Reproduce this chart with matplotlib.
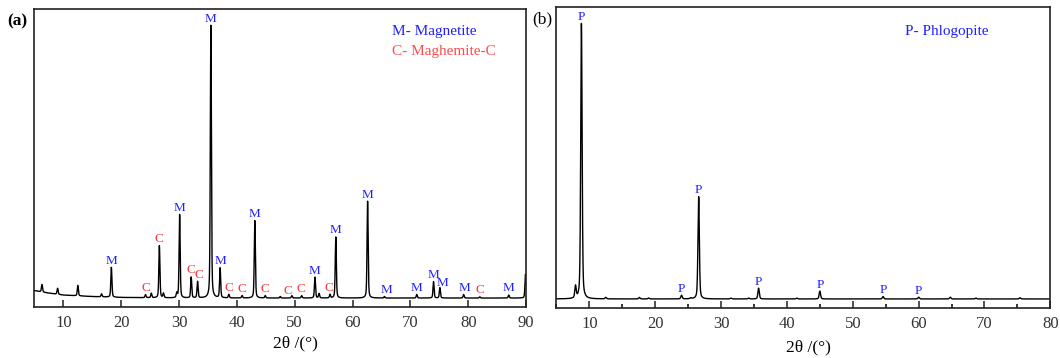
import matplotlib
matplotlib.use("Agg")
import matplotlib.pyplot as plt
import numpy as np

plt.rcParams['font.family'] = ['Liberation Serif', 'DejaVu Serif']

# (a) sample: peak positions (2theta) and heights above background
a_pos = [6.3, 9.0, 12.5, 16.6, 18.3, 24.2, 25.2, 26.6, 27.3, 29.6, 30.1, 32.1,
         33.2, 35.5, 37.1, 38.6, 40.9, 43.1, 44.9, 47.5, 49.5, 51.2, 53.5, 54.2,
         56.1, 57.1, 62.6, 65.5, 71.1, 74.0, 75.1, 79.2, 82.0, 87.0, 89.9]
a_int = [2.5, 2.0, 3.5, 1.0, 10.0, 1.0, 1.5, 17.5, 1.5, 1.5, 28.0, 7.0,
         5.5, 91.5, 10.0, 1.2, 0.8, 26.0, 0.8, 0.5, 0.8, 0.8, 7.0, 1.5,
         1.2, 20.5, 32.5, 0.5, 1.2, 5.5, 3.5, 1.2, 0.4, 1.0, 8.0]
a_bg_x = [5, 7, 10, 15, 20, 30, 50, 70, 90]
a_bg_y = [5.5, 4.8, 4.0, 3.5, 3.2, 3.0, 3.0, 3.0, 3.0]

a_lab = ['M', 'C', 'C', 'M', 'C', 'C', 'M', 'M', 'C', 'C', 'M', 'C', 'C', 'C',
         'M', 'C', 'M', 'M', 'M', 'M', 'M', 'M', 'M', 'C', 'M']
a_lab_x = [18.3, 24.2, 26.6, 30.1, 32.1, 33.4, 35.5, 37.2, 38.7, 40.9, 43.1,
           44.9, 48.9, 51.0, 53.4, 55.9, 57.1, 62.6, 65.8, 71.0, 74.0, 75.5,
           79.3, 82.0, 87.0]

# (b) sample
b_pos = [7.9, 8.8, 12.5, 17.6, 19.0, 24.0, 25.4, 26.6, 31.5, 34.2, 35.7,
         41.5, 45.0, 54.6, 60.0, 64.8, 68.7, 75.4]
b_int = [4.0, 91.5, 0.5, 0.5, 0.3, 1.2, 0.3, 34.0, 0.3, 0.3, 3.6,
         0.3, 2.6, 0.8, 0.6, 0.6, 0.3, 0.4]
b_bg_x = [5, 80]
b_bg_y = [3.0, 3.0]

b_lab_x = [8.8, 24.0, 26.6, 35.7, 45.0, 54.6, 60.0]

BLUE = '#1f1fff'
RED = '#ff3535'


def pattern(x, pos, hgt, bg_x, bg_y, w=0.22, eta=0.4):
    # pseudo-Voigt peaks on an interpolated background
    y = np.interp(x, bg_x, bg_y)
    for p, h in zip(pos, hgt):
        d = (x - p) / (w / 2)
        lor = 1 / (1 + d ** 2)
        gau = np.exp(-np.log(2) * d ** 2)
        y = y + h * (eta * lor + (1 - eta) * gau)
    return y


fig = plt.figure(figsize=(10.6, 3.58), dpi=100)
ax1 = fig.add_axes([0.0325, 0.1425, 0.4638, 0.8324])
ax2 = fig.add_axes([0.5249, 0.1397, 0.4660, 0.8408])

xa = np.arange(5, 90.001, 0.01)
ya = pattern(xa, a_pos, a_int, a_bg_x, a_bg_y)
ax1.plot(xa, ya, color='black', lw=1.0)
for lab, lx in zip(a_lab, a_lab_x):
    top = ya[(xa > lx - 0.35) & (xa < lx + 0.35)].max()
    ax1.text(lx, top + 0.2, lab, color=BLUE if lab == 'M' else RED,
             ha='center', va='bottom', fontsize=9.5)
ax1.set_xlim(5, 90)
ax1.set_ylim(0, 100)
ax1.set_xticks(range(10, 91, 10))
ax1.text(0.727, 0.923, 'M- Magnetite', color=BLUE, fontsize=11,
         transform=ax1.transAxes, va='center')
ax1.text(0.727, 0.856, 'C- Maghemite-C', color='#ff4a4a', fontsize=11,
         transform=ax1.transAxes, va='center')
ax1.set_xlabel('2θ /(°)', fontsize=12.5)
ax1.xaxis.set_label_coords(0.53, -0.095)

xb = np.arange(5, 80.001, 0.01)
yb = pattern(xb, b_pos, b_int, b_bg_x, b_bg_y, w=0.25)
ax2.plot(xb, yb, color='black', lw=1.0)
for lx in b_lab_x:
    top = yb[(xb > lx - 0.35) & (xb < lx + 0.35)].max()
    ax2.text(lx, top + 0.2, 'P', color=BLUE, ha='center', va='bottom',
             fontsize=9.5)
ax2.set_xlim(5, 80)
ax2.set_ylim(0, 100)
ax2.set_xticks(range(10, 81, 10))
ax2.set_xticks(range(5, 80, 5), minor=True)
ax2.text(0.706, 0.917, 'P- Phlogopite', color=BLUE, fontsize=11,
         transform=ax2.transAxes, va='center')
ax2.set_xlabel('2θ /(°)', fontsize=12.5)
ax2.xaxis.set_label_coords(0.51, -0.105)

for ax in (ax1, ax2):
    ax.set_yticks([])
    ax.tick_params(axis='x', direction='in', length=5, width=1.1,
                   labelsize=12, pad=6, color='#222222', labelcolor='#333333')
    ax.tick_params(axis='x', which='minor', direction='in', length=3, width=1.1)
    for s in ax.spines.values():
        s.set_linewidth(1.2)
        s.set_color('#222222')

fig.text(0.016, 0.941, '(a)', fontsize=12.5, fontweight='bold',
         ha='center', va='center')
fig.text(0.512, 0.947, '(b)', fontsize=12.5, ha='center', va='center')

fig.savefig('out.png', dpi=100)
